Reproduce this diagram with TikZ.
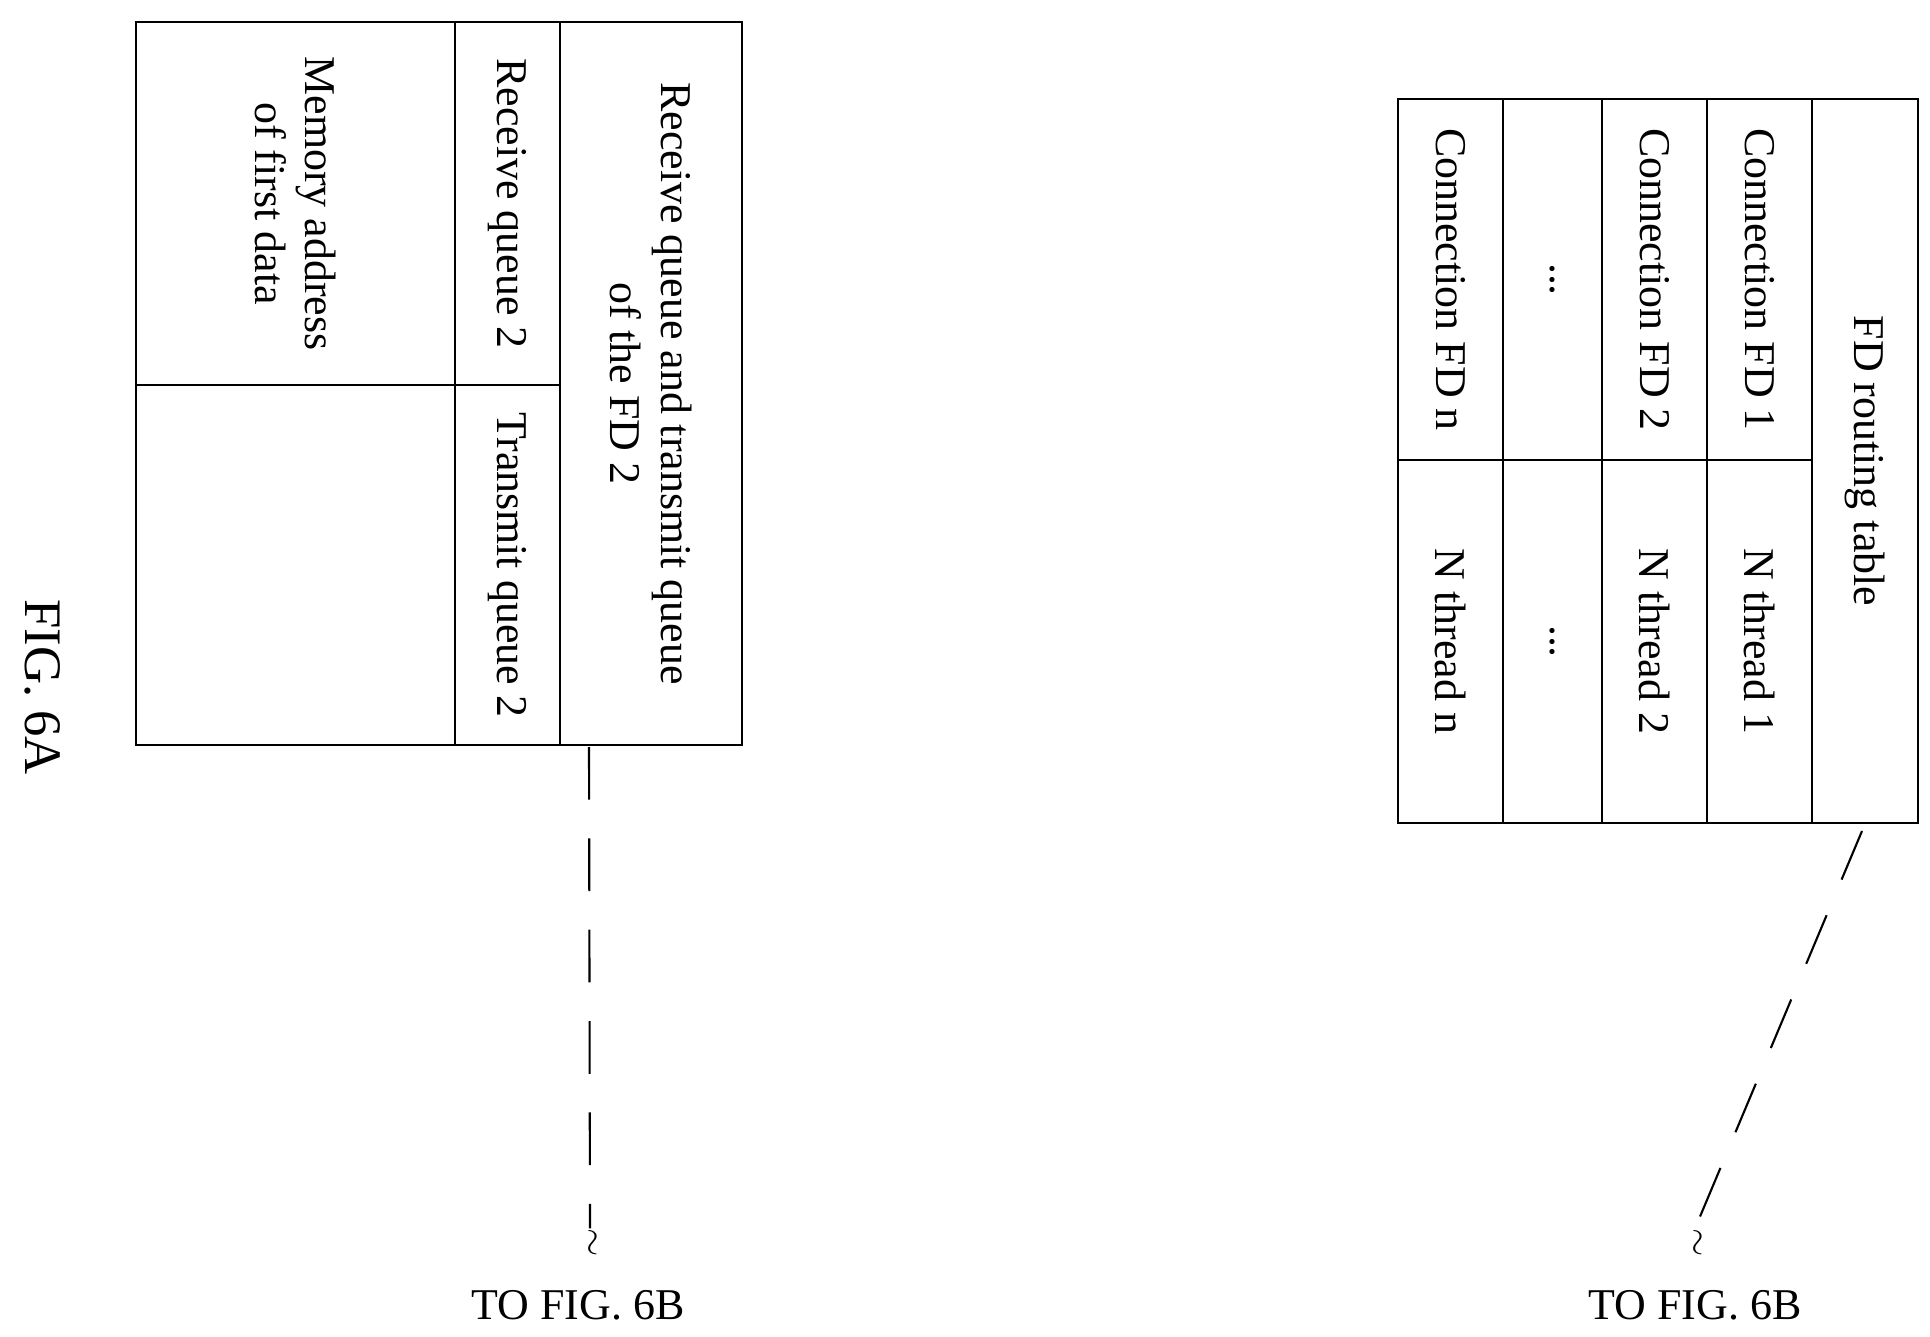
\documentclass[tikz,border=0pt]{standalone}
\usepackage{fontspec}
\setmainfont{Liberation Serif}
\usetikzlibrary{fit}
\begin{document}
\begin{tikzpicture}[x=0.02cm,y=-0.02cm,
  cell/.style={draw,line width=1.3pt,inner sep=0pt},
  txt/.style={rotate=-90,font=\fontsize{25}{29}\selectfont,align=center,inner sep=0pt},
  dashline/.style={line width=1.2pt,dash pattern=on 30pt off 22pt},
  wave/.style={rotate=-90,font=\fontsize{20}{20}\selectfont,inner sep=0pt}]
\useasboundingbox (0,0) rectangle (1930,1337);
\newcommand{\cellbox}[5]{\node[cell,fit={(#2,#3) (#4,#5)}] (#1) {};}
% left table
\cellbox{m1}{136}{22}{455}{385}
\cellbox{m2}{136}{385}{455}{745}
\cellbox{rq}{455}{22}{560}{385}
\cellbox{tq}{455}{385}{560}{745}
\cellbox{rt}{560}{22}{742}{745}
\node[txt] (tm1) at (m1) {Memory address\\of first data};
\node[txt] (trq) at (rq) {Receive queue 2};
\node[txt] (ttq) at (tq) {Transmit queue 2};
\node[txt] (trt) at (rt) {Receive queue and transmit queue\\of the FD 2};
\node[txt,font=\fontsize{30}{30}\selectfont] (fig) at (43,687) {FIG. 6A};
% right table
\cellbox{c1}{1707}{99}{1812}{460}
\cellbox{n1}{1707}{460}{1812}{823}
\cellbox{c2}{1602}{99}{1707}{460}
\cellbox{n2}{1602}{460}{1707}{823}
\cellbox{cd}{1503}{99}{1602}{460}
\cellbox{nd}{1503}{460}{1602}{823}
\cellbox{cn}{1398}{99}{1503}{460}
\cellbox{nn}{1398}{460}{1503}{823}
\cellbox{fd}{1812}{99}{1918}{823}
\node[txt] (tc1) at (c1) {Connection FD 1};
\node[txt] (tn1) at (n1) {N thread 1};
\node[txt] (tc2) at (c2) {Connection FD 2};
\node[txt] (tn2) at (n2) {N thread 2};
\node[txt] (tcd) at (cd) {...};
\node[txt] (tnd) at (nd) {...};
\node[txt] (tcn) at (cn) {Connection FD n};
\node[txt] (tnn) at (nn) {N thread n};
\node[txt] (tfd) at (fd) {FD routing table};
% connectors
\coordinate (a1) at (589,747);
\node[wave] (w1) at (590,1243) {$\sim$};
\node[font=\fontsize{25}{29}\selectfont] (to1) at (578,1305) {TO FIG. 6B};
\draw[dashline] (a1) -- (w1.west);
\coordinate (a2) at (1862,831);
\node[wave] (w2) at (1695,1243) {$\sim$};
\node[font=\fontsize{25}{29}\selectfont] (to2) at (1695,1305) {TO FIG. 6B};
\draw[dashline] (a2) -- (w2.west);
\end{tikzpicture}
\end{document}
